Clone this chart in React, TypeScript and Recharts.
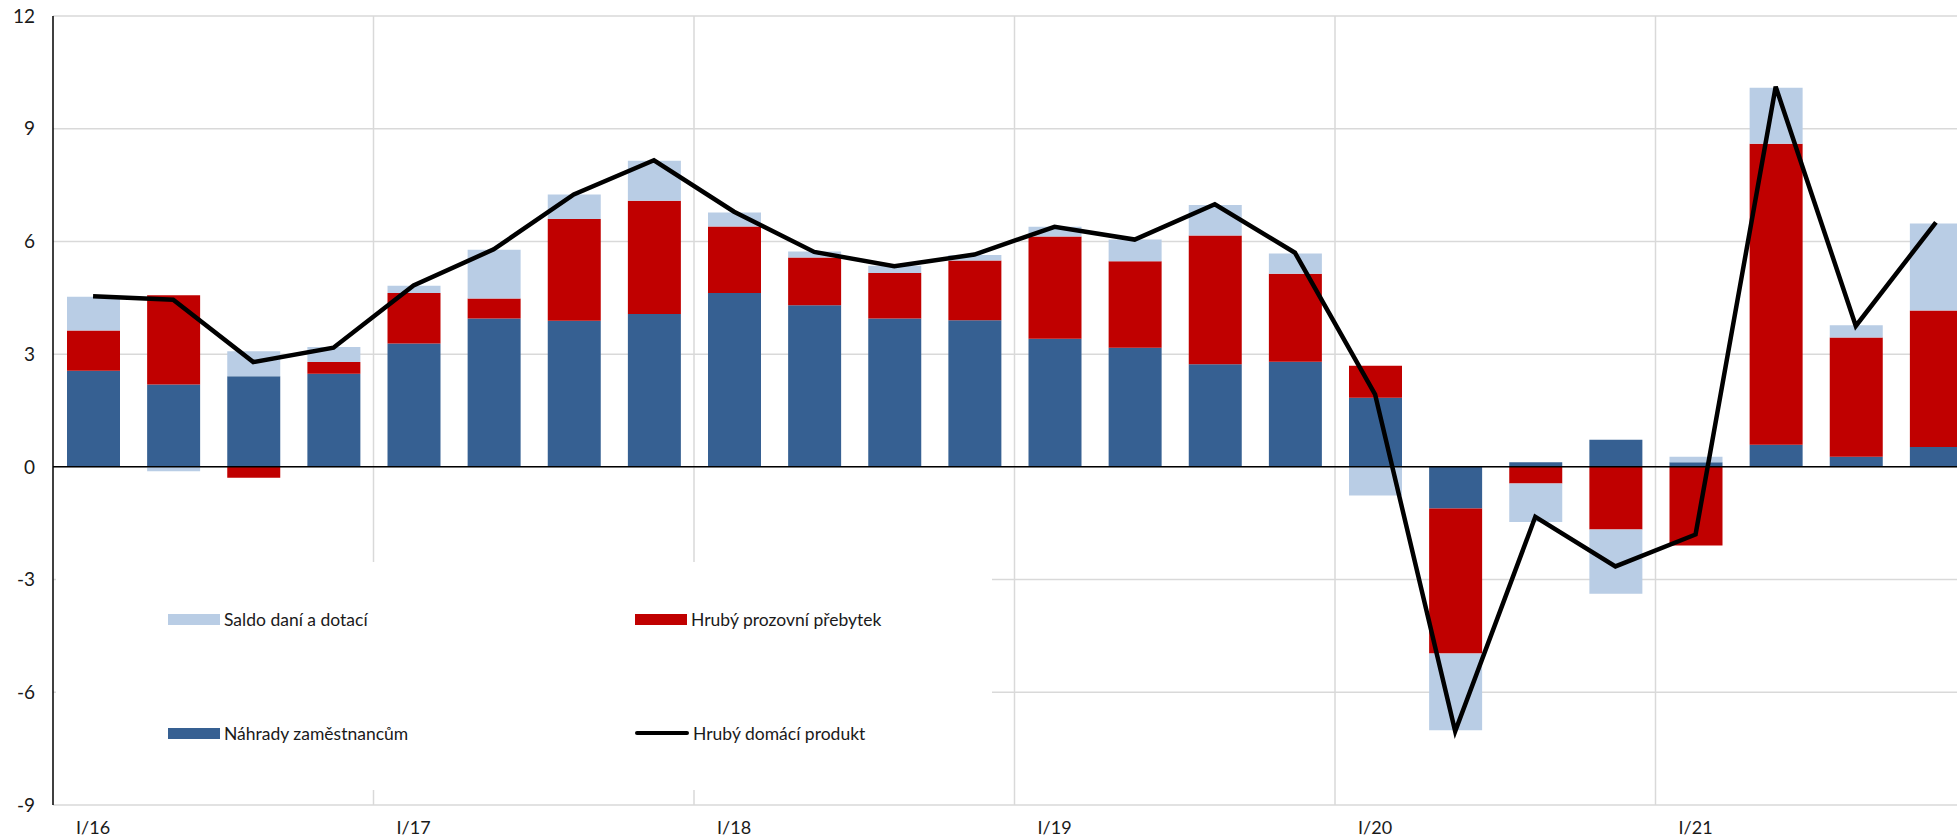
import {
  ComposedChart,
  Bar,
  Line,
  XAxis,
  YAxis,
  CartesianGrid,
  ReferenceLine,
} from 'recharts';

// quarters I/16 .. IV/21
const quarters = [
  'I/16', 'II/16', 'III/16', 'IV/16',
  'I/17', 'II/17', 'III/17', 'IV/17',
  'I/18', 'II/18', 'III/18', 'IV/18',
  'I/19', 'II/19', 'III/19', 'IV/19',
  'I/20', 'II/20', 'III/20', 'IV/20',
  'I/21', 'II/21', 'III/21', 'IV/21',
];

const nahrady = [
  2.56, 2.19, 2.41, 2.48,
  3.28, 3.95, 3.89, 4.07,
  4.63, 4.30, 3.95, 3.90,
  3.41, 3.17, 2.73, 2.80,
  1.84, -1.11, 0.12, 0.72,
  0.12, 0.59, 0.27, 0.53,
];

const prebytek = [
  1.07, 2.38, -0.29, 0.31,
  1.35, 0.53, 2.71, 3.01,
  1.77, 1.27, 1.21, 1.59,
  2.72, 2.30, 3.43, 2.34,
  0.85, -3.86, -0.44, -1.67,
  -2.09, 8.01, 3.17, 3.63,
];

const saldo = [
  0.90, -0.12, 0.67, 0.40,
  0.19, 1.30, 0.65, 1.07,
  0.37, 0.16, 0.19, 0.15,
  0.26, 0.58, 0.81, 0.54,
  -0.76, -2.04, -1.03, -1.71,
  0.15, 1.49, 0.33, 2.32,
];

const hdp = [
  4.54, 4.45, 2.79, 3.17,
  4.83, 5.79, 7.25, 8.16,
  6.79, 5.72, 5.34, 5.65,
  6.39, 6.05, 6.99, 5.70,
  1.93, -7.04, -1.33, -2.65,
  -1.80, 10.12, 3.75, 6.51,
];

const yTicks = [-9, -6, -3, 0, 3, 6, 9, 12];

const COLORS = {
  nahrady: '#366092',
  prebytek: '#c00000',
  saldo: '#b9cde5',
  hdp: '#000000',
  grid: '#d9d9d9',
  text: '#1a1a1a',
};

const FONT = 'Lato, "Open Sans", sans-serif';

const data = quarters.map((q, i) => ({
  q,
  nahrady: nahrady[i],
  prebytek: prebytek[i],
  saldo: saldo[i],
  hdp: hdp[i],
}));

const legendItems = [
  { label: 'Saldo daní a dotací', color: COLORS.saldo, line: false },
  { label: 'Hrubý prozovní přebytek', color: COLORS.prebytek, line: false },
  { label: 'Náhrady zaměstnancům', color: COLORS.nahrady, line: false },
  { label: 'Hrubý domácí produkt', color: COLORS.hdp, line: true },
];

// white legend panel sitting over the lower-left part of the plot, like in the Excel original
function LegendBox() {
  return (
    <div
      style={{
        position: 'absolute',
        left: 56,
        top: 562,
        width: 936,
        height: 228,
        display: 'grid',
        gridTemplateColumns: '467px 469px',
        gridTemplateRows: '114px 114px',
        background: '#fff',
        fontFamily: FONT,
        fontSize: 17.5,
        color: COLORS.text,
      }}
    >
      {legendItems.map((it) => (
        <div key={it.label} style={{ display: 'flex', alignItems: 'center', paddingLeft: 112 }}>
          {it.line ? (
            <div style={{ width: 54, height: 4.5, background: it.color, borderRadius: 2 }} />
          ) : (
            <div style={{ width: 52, height: 11, background: it.color }} />
          )}
          <span style={{ marginLeft: 4, whiteSpace: 'nowrap' }}>{it.label}</span>
        </div>
      ))}
    </div>
  );
}

export default function App() {
  return (
    <div
      style={{
        position: 'absolute',
        left: 0,
        top: 0,
        width: 1957,
        height: 839,
        overflow: 'hidden',
        background: '#fff',
      }}
    >
      <ComposedChart
        width={1976}
        height={839}
        data={data}
        stackOffset="sign"
        margin={{ top: 16, right: 0, bottom: 0, left: 0 }}
      >
        <CartesianGrid
          stroke={COLORS.grid}
          strokeWidth={1.5}
          verticalCoordinatesGenerator={({ offset }: any) => {
            const step = offset.width / quarters.length;
            return [4, 8, 12, 16, 20].map((k) => offset.left + k * step);
          }}
        />
        <XAxis
          dataKey="q"
          interval={0}
          axisLine={false}
          tickLine={false}
          height={34}
          tickMargin={10}
          tickFormatter={(v: string) => (v.startsWith('I/') ? v : '')}
          tick={{ fontSize: 18, fill: COLORS.text, fontFamily: FONT }}
        />
        <YAxis
          domain={[-9, 12]}
          ticks={yTicks}
          interval={0}
          width={53}
          axisLine={{ stroke: '#000', strokeWidth: 1.5 }}
          tickLine={false}
          tickMargin={12}
          tick={{ fontSize: 19, fill: COLORS.text, fontFamily: FONT }}
        />
        <Bar dataKey="nahrady" stackId="a" fill={COLORS.nahrady} barSize={53} isAnimationActive={false} />
        <Bar dataKey="prebytek" stackId="a" fill={COLORS.prebytek} barSize={53} isAnimationActive={false} />
        <Bar dataKey="saldo" stackId="a" fill={COLORS.saldo} barSize={53} isAnimationActive={false} />
        <ReferenceLine y={0} stroke="#000" strokeWidth={1.5} />
        <Line
          dataKey="hdp"
          type="linear"
          stroke={COLORS.hdp}
          strokeWidth={4.5}
          dot={false}
          isAnimationActive={false}
        />
      </ComposedChart>
      <LegendBox />
    </div>
  );
}
